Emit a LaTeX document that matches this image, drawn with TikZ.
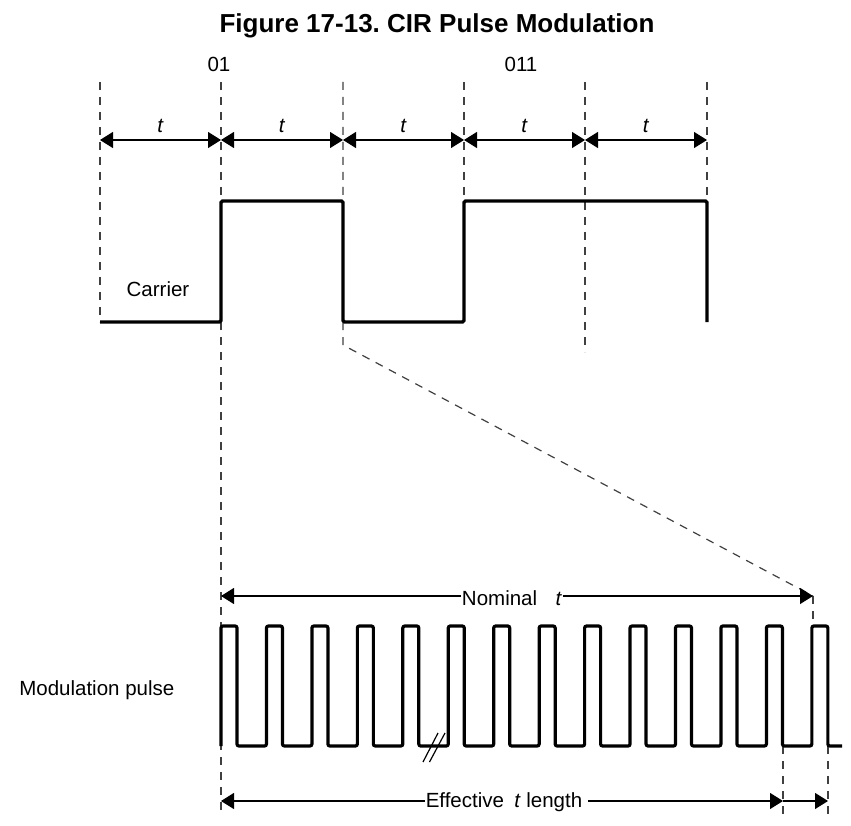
\documentclass[tikz,border=0pt]{standalone}
\usepackage{fontspec}
\setmainfont{Liberation Sans}
\usepackage{tikz}
\usetikzlibrary{arrows.meta,positioning,calc}
\definecolor{GuideGray}{HTML}{404040}
\frenchspacing

\begin{document}
\begin{tikzpicture}[
  x=1pt, y=-1pt,
  guide/.style={draw=GuideGray, line width=1.2pt, dash pattern=on 8pt off 7pt},
  dim/.style={line width=1.2pt, {Triangle[length=13pt,width=16pt]}-{Triangle[length=13pt,width=16pt]}},
  dimR/.style={line width=1.2pt, -{Triangle[length=13pt,width=16pt]}},
  wave/.style={line width=3.4pt, rounded corners=1.5pt},
  pulse/.style={line width=3.2pt, rounded corners=2pt},
  lbl/.style={font=\fontsize{20.5}{24}\selectfont, inner sep=0.5pt},
  title/.style={font=\fontsize{26}{31}\bfseries\selectfont, inner sep=0pt}
]
\useasboundingbox (0,0) rectangle (851,826);

\node[title, anchor=base] (title) at (437,33) {Figure 17-13. CIR Pulse Modulation};

% bit boundaries
\foreach \x [count=\i] in {100,221,343,464,585,707}
  \coordinate (b\i) at (\x,140);

\coordinate (nomL) at (221,596);
\coordinate (nomR) at (813,596);
\coordinate (effL) at (221,801);
\coordinate (effM) at (783,801);
\coordinate (effR) at (828,801);

% dashed guides
\draw[guide] (100,82) -- (100,322);
\draw[guide] (221,82) -- (221,815);
\draw[guide] (343,82) -- (343,345) -- (nomR);
\draw[guide] (464,82) -- (464,201);
\draw[guide] (585,82) -- (585,352);
\draw[guide] (707,82) -- (707,201);
\draw[guide] (nomR) -- (813,626);
\draw[guide] (783,746) -- (783,815);
\draw[guide] (828,746) -- (828,815);

\node[lbl, anchor=base] (bits01) at (219,72) {01};
\node[lbl, anchor=base] (bits011) at (521,72) {011};

\foreach \i/\j in {1/2,2/3,3/4,4/5,5/6}
  \draw[dim] (b\i) -- (b\j) node[lbl, midway, anchor=base, yshift=7pt] {\textit{t}};

% carrier
\draw[wave] (100,322) -- (221,322) -- (221,201) -- (343,201) -- (343,322)
  -- (464,322) -- (464,201) -- (707,201) -- (707,322);
\node[lbl, anchor=base] (carrier) at (158,297) {Carrier};

% modulation pulses
\node[lbl, anchor=base east] (modpulse) at (175,695) {Modulation pulse};
\draw[pulse] (221,746)
  \foreach \k in {0,...,12}{
    -- ({221+45.45*\k},626) -- ({237+45.45*\k},626)
    -- ({237+45.45*\k},746) -- ({266.45+45.45*\k},746)}
  -- (811.85,626) -- (827.85,626) -- (827.85,746) -- (842,746);
\draw[line width=1.2pt] (423,762) -- (438,733) (429.5,762) -- (445,733);

% nominal / effective lengths
\node[lbl, anchor=base] (nominal) at (512,605) {Nominal\hspace{0.9em}\textit{t}};
\draw[dimR] (nominal.west |- nomL) -- (nomL);
\draw[dimR] (nominal.east |- nomR) -- (nomR);

\node[lbl, anchor=base] (effective) at (504,807) {Effective\hspace{0.5em}\textit{t} length};
\draw[dimR] (effective.west |- effL) -- (effL);
\draw[dimR] ([xshift=5pt]effective.east |- effM) -- (effM);
\draw[dimR] (effM) -- (effR);
\end{tikzpicture}
\end{document}
